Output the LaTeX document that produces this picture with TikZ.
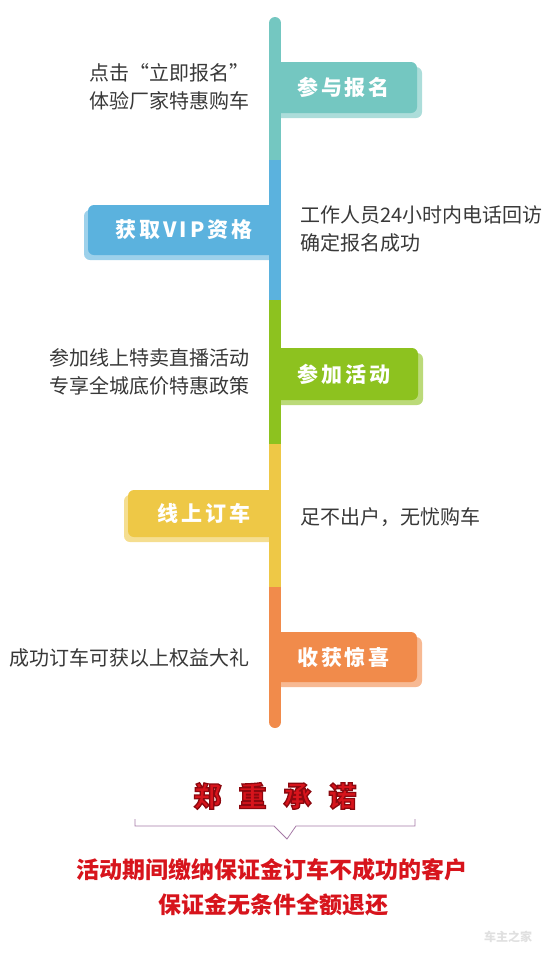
\documentclass[tikz,border=0pt]{standalone}
\usepackage{fontspec}
\setmainfont{Noto Sans CJK SC}
\usetikzlibrary{shadows}
\definecolor{qing}{HTML}{74C7C1}
\definecolor{lan}{HTML}{5BB2DE}
\definecolor{lv}{HTML}{8DC21F}
\definecolor{huang}{HTML}{EEC846}
\definecolor{cheng}{HTML}{F18B4B}
\definecolor{hong}{HTML}{D7141C}
\definecolor{zi}{HTML}{A57AA6}
\newcommand\kong{\hspace{17pt}}
% 描边字：红色填充，暗红描边
\newcommand\miaobian[1]{\special{pdf:literal 2 Tr 1.3 w 0.55 0.03 0.06 RG}#1\special{pdf:literal 0 Tr}}

\begin{document}
\begin{tikzpicture}[x=1pt, y=-1pt, line cap=round,
  box/.style={rectangle, rounded corners=6pt, inner sep=0pt, text=white,
    font=\fontsize{21}{21}\selectfont\bfseries\addfontfeatures{LetterSpace=14}},
  rbox/.style={box, fill=#1, drop shadow={shadow xshift=5pt, shadow yshift=-5pt,
    fill=#1!60!white, opacity=1}},
  lbox/.style={box, fill=#1, drop shadow={shadow xshift=-4pt, shadow yshift=-5pt,
    fill=#1!60!white, opacity=1}},
  side/.style={inner sep=0pt, text=black!78, align=left,
    font=\fontsize{20}{28}\selectfont},
  seg/.style={line width=12pt, line cap=butt}]
\useasboundingbox (0,0) rectangle (550,954);
% 各步骤标签
\node[rbox=qing, minimum width=147pt, minimum height=51pt] (canyu) at (343.5,87.5) {参与报名};
\node[lbox=lan, minimum width=192pt, minimum height=50pt] (huoqu) at (184,230) {获取VIP资格};
\node[rbox=lv, minimum width=148pt, minimum height=52pt] (huodong) at (344,374) {参加活动};
\node[lbox=huang, minimum width=152pt, minimum height=47pt] (dingche) at (204,513.5) {线上订车};
\node[rbox=cheng, minimum width=147pt, minimum height=50pt] (jingxi) at (343.5,657) {收获惊喜};
% 时间轴
\draw[line width=12pt, qing] (275,23) -- (275,160);
\draw[line width=12pt, cheng] (275,587) -- (275,722);
\draw[seg, lan] (275,160) -- (275,300);
\draw[seg, lv] (275,300) -- (275,444);
\draw[seg, huang] (275,444) -- (275,587);
% 说明文字
\node[side, anchor=east] (shuoming1) at (250,86.5) {点击“立即报名”\\体验厂家特惠购车};
\node[side, anchor=west] (shuoming2) at (300,229) {工作人员24小时内电话回访\\确定报名成功};
\node[side, anchor=east] (shuoming3) at (250,372) {参加线上特卖直播活动\\专享全城底价特惠政策};
\node[side, anchor=west] (shuoming4) at (300,517) {足不出户，无忧购车};
\node[side, anchor=east] (shuoming5) at (250,658) {成功订车可获以上权益大礼};
% 郑重承诺
\node[text=hong, font=\fontsize{28}{28}\selectfont\bfseries] (chengnuo) at (275,796)
  {\miaobian{郑\kong 重\kong 承\kong 诺}};
\draw[zi, line width=0.8pt, line cap=butt] (135,819) -- (135,826) -- (274,826) -- (287,839)
  -- (296,826) -- (415,826) -- (415,819);
\node[text=hong, font=\fontsize{23}{23}\selectfont\bfseries] (tiaokuan1) at (272,870) {活动期间缴纳保证金订车不成功的客户};
\node[text=hong, font=\fontsize{23}{23}\selectfont\bfseries] (tiaokuan2) at (273,905) {保证金无条件全额退还};
% 水印
\node[text=black!12, font=\fontsize{12}{12}\selectfont\bfseries\itshape] (shuiyin) at (508,937) {车主之家};
\end{tikzpicture}
\end{document}
